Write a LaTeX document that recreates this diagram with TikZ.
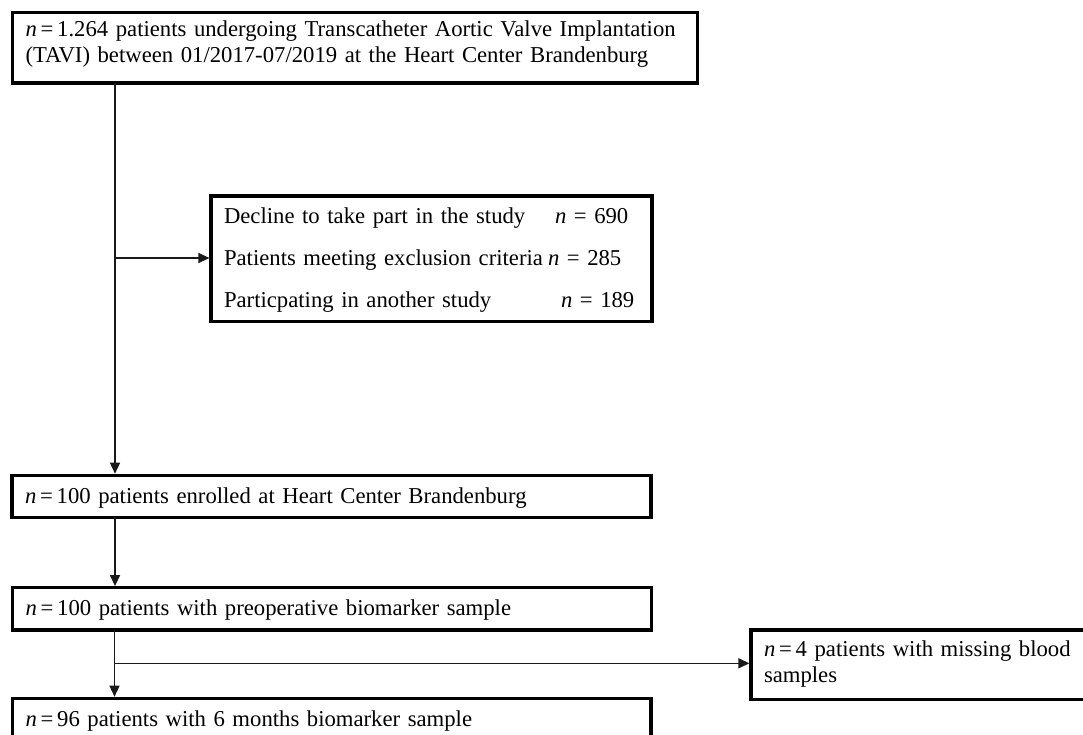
\documentclass[tikz,border=0pt]{standalone}
\usepackage{fontspec}
\setmainfont{Liberation Serif}
\usetikzlibrary{arrows.meta}
\newcommand{\nval}[1]{\textit{n}\,=\,#1}
\begin{document}
\begin{tikzpicture}[x=1pt,y=-1pt,
  box/.style={draw, line width=3.3pt, rectangle, outer sep=0pt, inner xsep=13pt, inner ysep=0pt,
    anchor=north west, align=left, font=\fontsize{22.7}{26}\selectfont},
  single/.style={text height=16pt, text depth=2pt},
  conn/.style={line width=1.4pt, draw=black!90},
  arr/.style={conn, -{Triangle[length=11pt,width=10pt]}, shorten >=1.6pt}]
\useasboundingbox (0,0) rectangle (1083,735);
\fill[white] (0,0) rectangle (1083,735);
\clip (0,0) rectangle (1083,735);

\node[box, minimum width=685pt, minimum height=70.5pt, text width=659pt,
      text height=10pt, text depth=31.5pt] (b1) at (12.5,12.5)
  {\nval{1.264} patients undergoing Transcatheter Aortic Valve Implantation\\(TAVI) between 01/2017-07/2019 at the Heart Center Brandenburg};

\node[box, minimum width=441pt, minimum height=125.7pt, text width=415pt,
      text height=10pt, text depth=79.7pt] (b2) at (211,196)
  {\begin{tabular}[t]{@{}p{322pt}@{}l@{}}
   Decline to take part in the study & \hspace{9pt}\textit{n} = 690\\[16pt]
   Patients meeting exclusion criteria & \hspace{2pt}\textit{n} = 285\\[16pt]
   Particpating in another study & \hspace{15pt}\textit{n} = 189
   \end{tabular}};

\node[box, single, minimum width=639pt, minimum height=42pt, text width=613pt] (b3) at (12,475.3)
  {\nval{100} patients enrolled at Heart Center Brandenburg};

\node[box, single, minimum width=639pt, minimum height=42.3pt, text width=613pt] (b4) at (12.5,587.7)
  {\nval{100} patients with preoperative biomarker sample};

\node[box, single, minimum width=638.5pt, minimum height=42pt, text width=612.5pt] (b5) at (12.5,698.3)
  {\nval{96} patients with 6 months biomarker sample};

\node[box, minimum width=400pt, minimum height=69.3pt, text width=374pt,
      text height=12pt, text depth=29.3pt] (rb) at (751,630)
  {\nval{4} patients with missing blood\\samples};

\coordinate (j1) at (115,258);
\coordinate (j2) at (114.5,663.3);

\draw[arr] (j1 |- b1.south) -- (j1 |- b3.north);
\draw[arr] (j1) -- (j1 -| b2.west);
\draw[arr] (j1 |- b3.south) -- (j1 |- b4.north);
\draw[arr] (j2 |- b4.south) -- (j2 |- b5.north);
\draw[arr] (j2) -- (j2 -| rb.west);
\end{tikzpicture}
\end{document}
